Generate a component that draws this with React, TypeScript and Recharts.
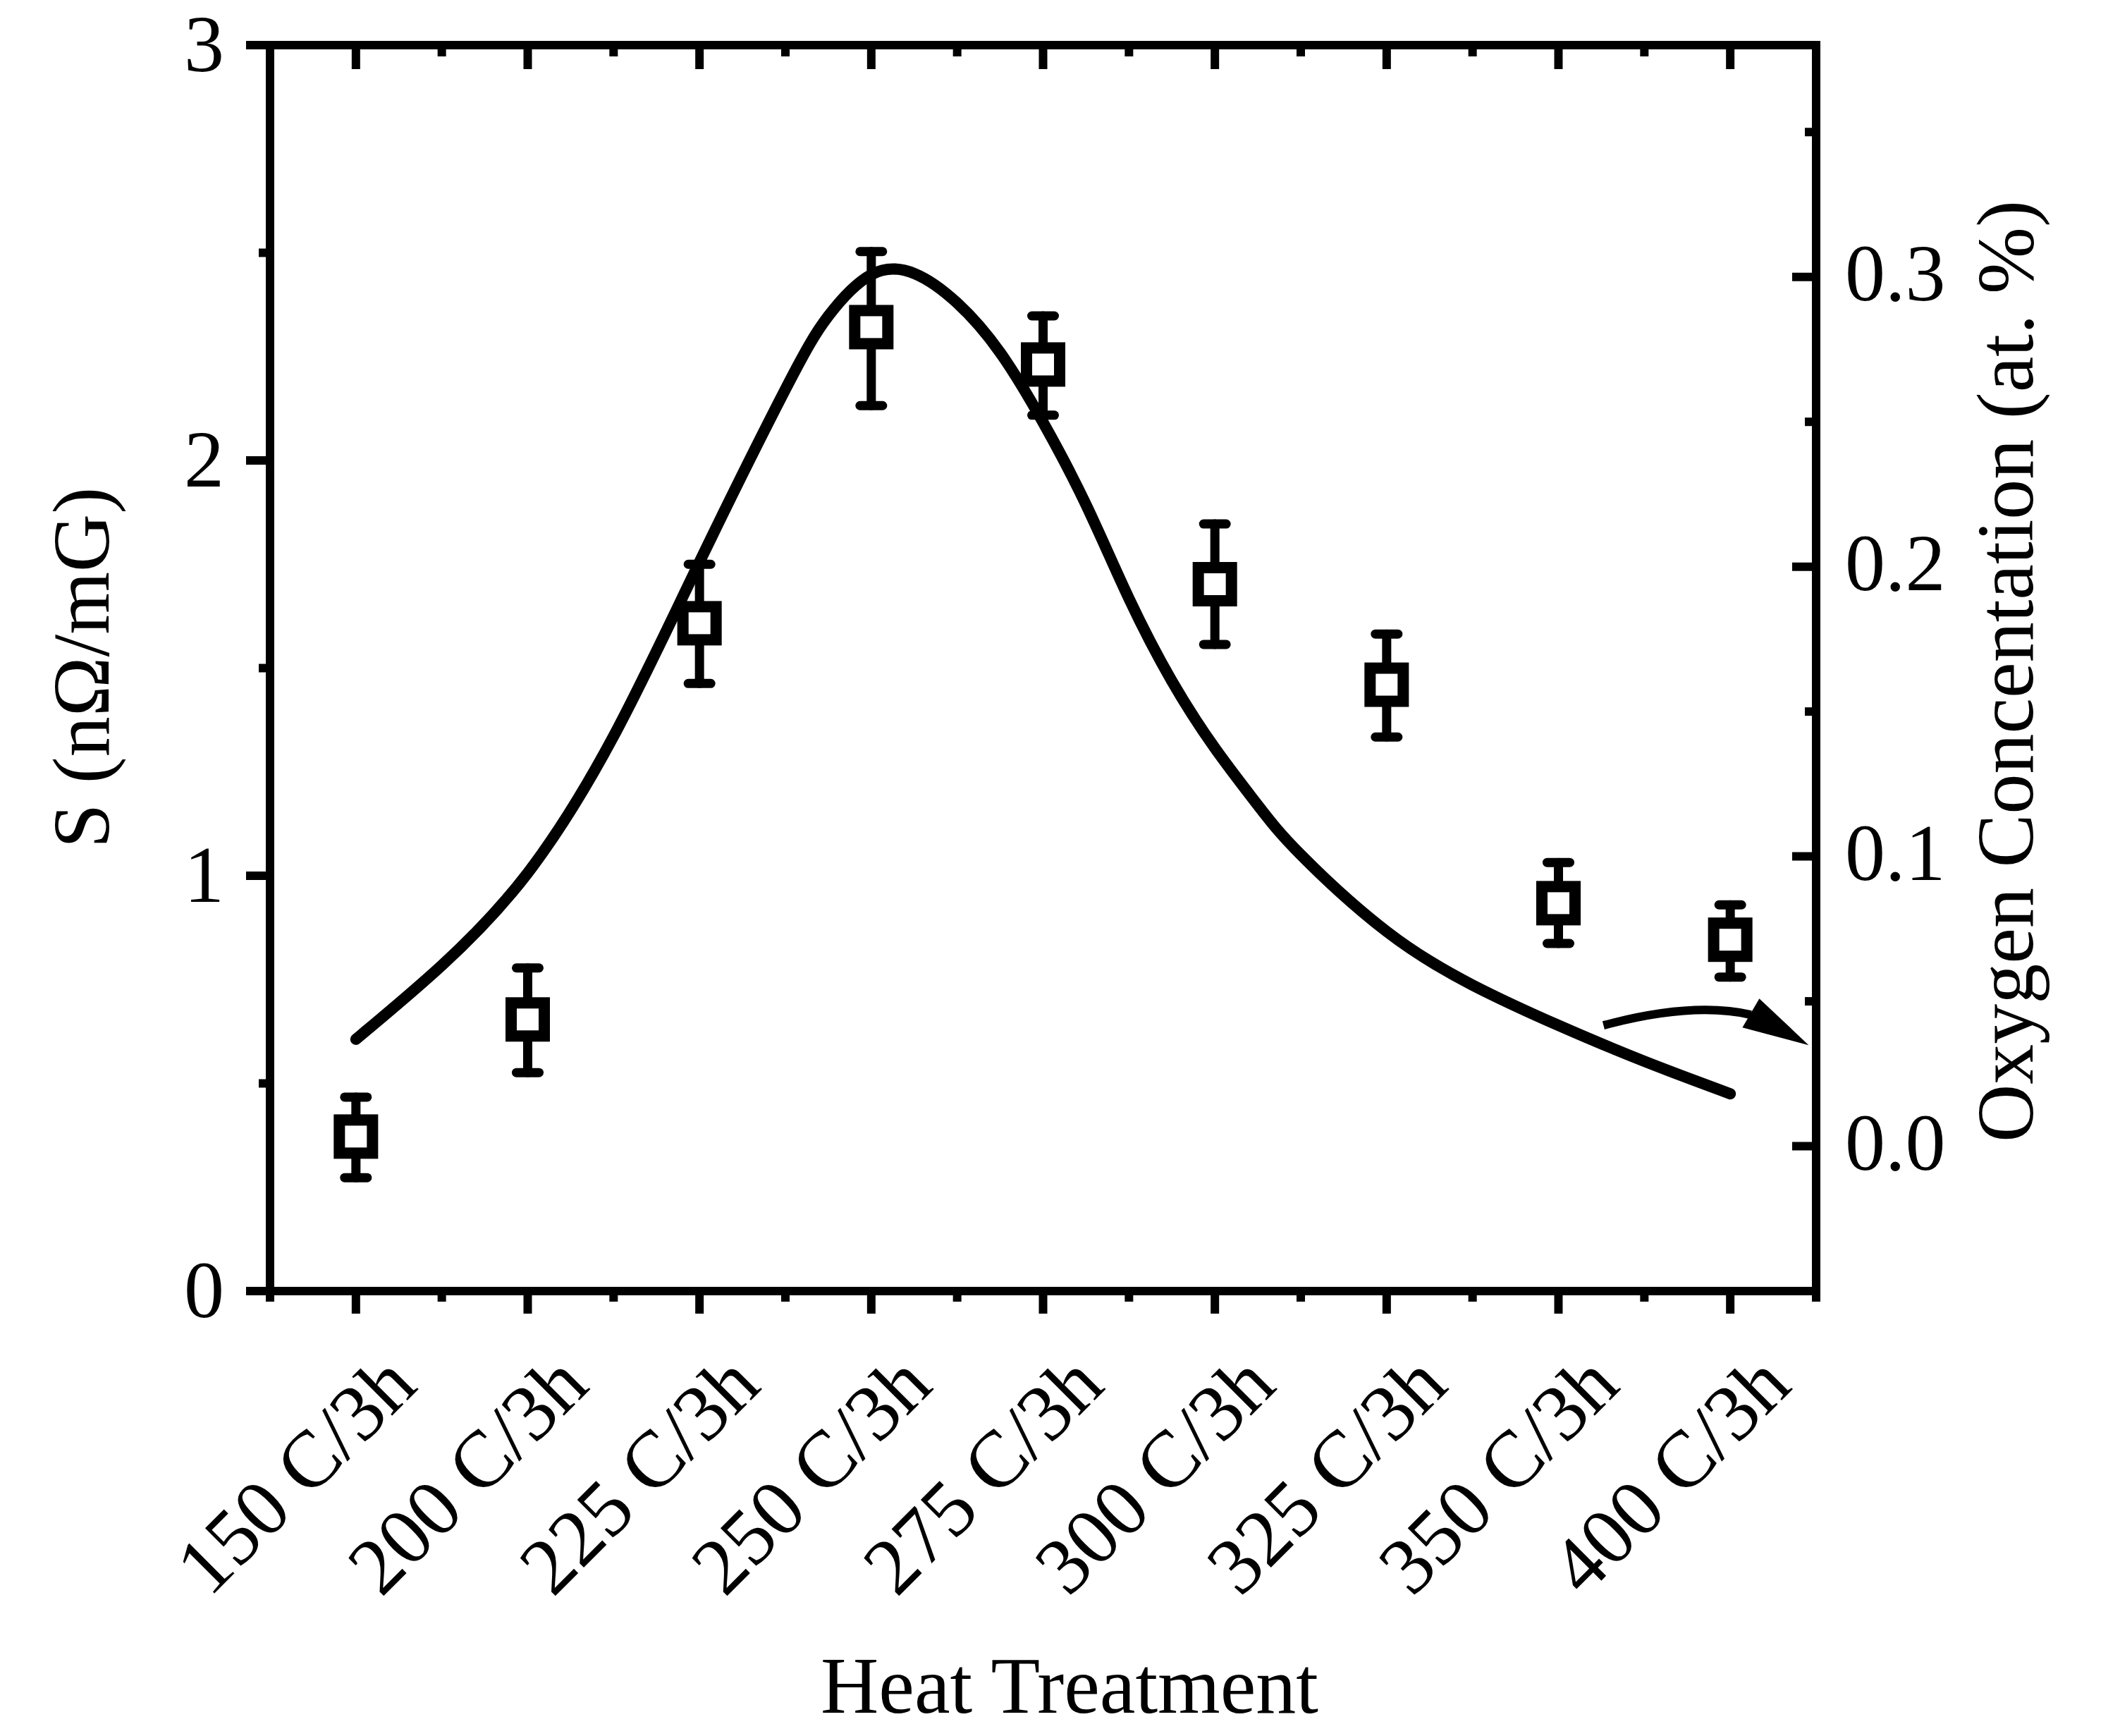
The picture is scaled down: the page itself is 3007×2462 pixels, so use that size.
import React from 'react';
import {
  ComposedChart,
  XAxis,
  YAxis,
  Scatter,
  Line,
  ErrorBar,
  ReferenceDot,
  Customized,
} from 'recharts';

// ---------- data ----------
const categories = [
  '150 C/3h',
  '200 C/3h',
  '225 C/3h',
  '250 C/3h',
  '275 C/3h',
  '300 C/3h',
  '325 C/3h',
  '350 C/3h',
  '400 C/3h',
];
const sValues = [0.372, 0.654, 1.608, 2.321, 2.231, 1.702, 1.46, 0.934, 0.846];
const sErrLow = [0.099, 0.128, 0.145, 0.189, 0.122, 0.145, 0.126, 0.097, 0.09];
const sErrHigh = [0.095, 0.124, 0.142, 0.182, 0.117, 0.145, 0.122, 0.098, 0.084];

// oxygen concentration curve at category positions (index units)
const curvePositions = [
  0, 0.5, 1, 1.5, 2, 2.5, 2.75, 3, 3.25, 3.5, 3.75, 4, 4.25, 4.5, 4.75, 5, 5.25,
  5.5, 6, 6.5, 7, 7.5, 8,
];
const oxygenValues = [
  0.0369, 0.0624, 0.0943, 0.1415, 0.2016, 0.2612, 0.2865, 0.3008, 0.3012, 0.291,
  0.2739, 0.2498, 0.2214, 0.189, 0.1605, 0.1374, 0.1177, 0.1006, 0.0741, 0.0556,
  0.0417, 0.0293, 0.0181,
];

const xTicks = [-0.5, 0, 0.5, 1, 1.5, 2, 2.5, 3, 3.5, 4, 4.5, 5, 5.5, 6, 6.5, 7, 7.5, 8, 8.5];
const leftTicks = [0, 0.5, 1, 1.5, 2, 2.5, 3];
const rightTicks = [-0.05, 0, 0.05, 0.1, 0.15, 0.2, 0.25, 0.3, 0.35];

const xTitle = 'Heat Treatment';
const leftTitle = 'S (nΩ/mG)';
const rightTitle = 'Oxygen Concentation (at. %)';

const scatterData = sValues.map((s, i) => ({
  idx: i,
  s,
  err: [sErrLow[i], sErrHigh[i]],
}));
const curveData = curvePositions.map((p, i) => ({ idx: p, o: oxygenValues[i] }));

// ---------- style ----------
const FONT = '"Liberation Serif", "Times New Roman", Times, serif';
const FS = 114;
const AX = 12;
const MAJOR = 34;
const MINOR = 16;

const isMajor = (v: number, step: number) =>
  Math.abs(Math.round(v / step) - v / step) < 1e-6;

function BottomTick(props: any) {
  const { x, y, payload } = props;
  const v = payload.value;
  const major = isMajor(v, 1);
  const tx = x + 90;
  const ty = y + 138;
  return (
    <g>
      <line x1={x} y1={y} x2={x} y2={y + (major ? 32 : 15)} stroke="#000" strokeWidth={AX} />
      {major && (
        <text
          x={tx}
          y={ty}
          transform={`rotate(-45 ${tx} ${ty})`}
          textAnchor="end"
          fontFamily={FONT}
          fontSize={FS}
          fill="#000"
        >
          {categories[Math.round(v)]}
        </text>
      )}
    </g>
  );
}

function TopTick(props: any) {
  const { x, y, payload } = props;
  const major = isMajor(payload.value, 1);
  return <line x1={x} y1={y} x2={x} y2={y + (major ? MAJOR : MINOR)} stroke="#000" strokeWidth={AX} />;
}

function LeftTick(props: any) {
  const { x, y, payload } = props;
  const v = payload.value;
  const major = isMajor(v, 1);
  return (
    <g>
      <line x1={x} y1={y} x2={x - (major ? MAJOR : MINOR)} y2={y} stroke="#000" strokeWidth={AX} />
      {major && (
        <text x={x - 65} y={y + 37} textAnchor="end" fontFamily={FONT} fontSize={FS} fill="#000">
          {String(Math.round(v))}
        </text>
      )}
    </g>
  );
}

function RightTick(props: any) {
  const { x, y, payload } = props;
  const v = payload.value;
  const major = isMajor(v, 0.1);
  return (
    <g>
      <line x1={x} y1={y} x2={x - (major ? MAJOR : MINOR)} y2={y} stroke="#000" strokeWidth={AX} />
      {major && (
        <text x={x + 41} y={y + 33} textAnchor="start" fontFamily={FONT} fontSize={FS} fill="#000">
          {Math.abs(v) < 1e-9 ? '0.0' : v.toFixed(1)}
        </text>
      )}
    </g>
  );
}

function SquareShape(props: any) {
  const { cx, cy } = props;
  if (cx == null || cy == null) return null;
  const h = 23.5;
  return (
    <rect x={cx - h} y={cy - h} width={2 * h} height={2 * h} fill="#fff" stroke="#000" strokeWidth={16} />
  );
}

function ArrowShape(props: any) {
  const { cx, cy } = props;
  if (cx == null || cy == null) return null;
  const p = (dx: number, dy: number) => `${cx + dx},${cy + dy}`;
  return (
    <g>
      <path
        d={`M${p(3, -7)} Q${p(130, -41)} ${p(212, -22)}`}
        fill="none"
        stroke="#000"
        strokeWidth={12}
      />
      <polygon points={`${p(224, -45)} ${p(294, 21)} ${p(200, -4)}`} fill="#000" />
    </g>
  );
}

function Titles() {
  return (
    <g>
      <text
        x={146}
        y={947}
        transform="rotate(-90 146 947)"
        textAnchor="middle"
        fontFamily={FONT}
        fontSize={FS}
        fill="#000"
      >
        {leftTitle}
      </text>
      <text
        x={2875}
        y={952}
        transform="rotate(-90 2875 952)"
        textAnchor="middle"
        fontFamily={FONT}
        fontSize={FS}
        fill="#000"
      >
        {rightTitle}
      </text>
      <text x={1509} y={2429} textAnchor="middle" fontFamily={FONT} fontSize={FS} fill="#000">
        {xTitle}
      </text>
    </g>
  );
}

const axisLineStyle = { stroke: '#000', strokeWidth: AX, strokeLinecap: 'square' as const };

export default function App() {
  return (
    <div style={{ width: 2990, height: 2460, marginTop: -8, background: '#fff' }}>
      <ComposedChart
        width={2990}
        height={2460}
        margin={{ top: 44, right: 122, bottom: 229, left: 175 }}
      >
        <XAxis
          xAxisId="bottom"
          dataKey="idx"
          type="number"
          domain={[-0.5, 8.5]}
          allowDataOverflow
          ticks={xTicks}
          interval={0}
          tick={<BottomTick />}
          tickLine={false}
          tickSize={0}
          tickMargin={0}
          axisLine={axisLineStyle}
          height={400}
        />
        <XAxis
          xAxisId="top"
          orientation="top"
          dataKey="idx"
          type="number"
          domain={[-0.5, 8.5]}
          allowDataOverflow
          ticks={xTicks}
          interval={0}
          tick={<TopTick />}
          tickLine={false}
          tickSize={0}
          tickMargin={0}
          axisLine={axisLineStyle}
          height={20}
        />
        <YAxis
          yAxisId="left"
          dataKey="s"
          type="number"
          domain={[0, 3]}
          allowDataOverflow
          ticks={leftTicks}
          interval={0}
          tick={<LeftTick />}
          tickLine={false}
          tickSize={0}
          tickMargin={0}
          axisLine={axisLineStyle}
          width={200}
        />
        <YAxis
          yAxisId="right"
          orientation="right"
          dataKey="o"
          type="number"
          domain={[-0.05, 0.38]}
          allowDataOverflow
          ticks={rightTicks}
          interval={0}
          tick={<RightTick />}
          tickLine={false}
          tickSize={0}
          tickMargin={0}
          axisLine={axisLineStyle}
          width={300}
        />
        <Scatter
          data={scatterData}
          dataKey="s"
          xAxisId="bottom"
          yAxisId="left"
          shape={SquareShape}
          isAnimationActive={false}
        >
          <ErrorBar
            dataKey="err"
            direction="y"
            width={16}
            stroke="#000"
            strokeWidth={13}
            strokeLinecap="round"
            isAnimationActive={false}
          />
        </Scatter>
        <Line
          data={curveData}
          dataKey="o"
          xAxisId="top"
          yAxisId="right"
          type="natural"
          stroke="#000"
          strokeWidth={16}
          strokeLinecap="round"
          strokeLinejoin="round"
          dot={false}
          activeDot={false}
          isAnimationActive={false}
        />
        <ReferenceDot
          x={7.25}
          y={0.04}
          xAxisId="top"
          yAxisId="right"
          ifOverflow="visible"
          shape={ArrowShape}
        />
        <Customized component={Titles} />
      </ComposedChart>
    </div>
  );
}
